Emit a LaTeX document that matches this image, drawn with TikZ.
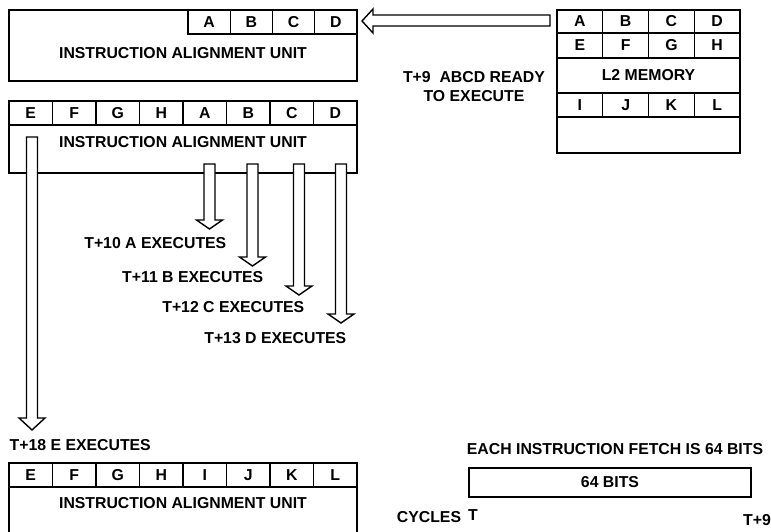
\documentclass[tikz,border=0pt]{standalone}
\usepackage{fontspec}
\setmainfont{Liberation Sans}
\usetikzlibrary{calc}

\begin{document}
\begin{tikzpicture}[x=0.03cm, y=-0.03cm, line width=1.2pt, line join=miter,
  lbl/.style={font=\fontsize{13.5}{15.5}\selectfont\bfseries, inner sep=0pt},
  blockarr/.style={draw, fill=white}]

\useasboundingbox (0,0) rectangle (771,532);

% Unita' di allineamento in alto (A..D)
\draw (9,10) rectangle (357,81);
\foreach \l [count=\i from 0] in {A,B,C,D}{
  \draw (188+42.25*\i,10) rectangle (230.25+42.25*\i,34);
  \node[lbl] (top\l) at (209.1+42.25*\i,22.5) {\l};
}
\node[lbl] (topiau) at (183,53) {INSTRUCTION ALIGNMENT UNIT};

% Memoria L2
\draw (557,10) rectangle (740,153);
\foreach \l [count=\i from 0] in {A,B,C,D}{
  \draw (557+45.75*\i,10) rectangle (602.75+45.75*\i,33);
  \node[lbl] (mem\l) at (579.9+45.75*\i,21.5) {\l};
}
\foreach \l [count=\i from 0] in {E,F,G,H}{
  \draw (557+45.75*\i,33) rectangle (602.75+45.75*\i,58);
  \node[lbl] (mem\l) at (579.9+45.75*\i,45.5) {\l};
}
\node[lbl] (l2) at (648.5,75) {L2 MEMORY};
\foreach \l [count=\i from 0] in {I,J,K,L}{
  \draw (557+45.75*\i,93) rectangle (602.75+45.75*\i,117);
  \node[lbl] (mem\l) at (579.9+45.75*\i,105) {\l};
}

% Freccia dalla L2 verso l'unita'
\draw[blockarr] (550,15) -- (373,15) -- (373,9) -- (362,21) -- (373,33)
  -- (373,26) -- (550,26) -- cycle;
\node[lbl, align=center] (ready) at (474,86.5) {T+9\ \ ABCD READY\\TO EXECUTE};

% Unita' di allineamento al centro (E..H, A..D)
\draw (9,101) rectangle (357,173);
\foreach \l [count=\i from 0] in {E,F,G,H,A,B,C,D}{
  \draw (9+43.5*\i,101) rectangle (52.5+43.5*\i,125);
  \node[lbl] (mid\l) at (30.75+43.5*\i,113.5) {\l};
}
\node[lbl] (midiau) at (183,142) {INSTRUCTION ALIGNMENT UNIT};

% Frecce di esecuzione
\foreach \x/\yb in {209.5/220, 252.5/257, 299/286, 341/314}
  \draw[blockarr] (\x-5.5,164) -- (\x-5.5,\yb) -- (\x-13,\yb) -- (\x,\yb+9)
    -- (\x+13,\yb) -- (\x+5.5,\yb) -- (\x+5.5,164) -- cycle;
\draw[blockarr] (26.5,137) -- (26.5,418) -- (19,418) -- (32,430)
  -- (45,418) -- (37.5,418) -- (37.5,137) -- cycle;

% Etichette
\node[lbl, anchor=east] (exA) at (227,243) {T+10 A EXECUTES};
\node[lbl, anchor=east] (exB) at (264,277) {T+11 B EXECUTES};
\node[lbl, anchor=east] (exC) at (305,307) {T+12 C EXECUTES};
\node[lbl, anchor=east] (exD) at (347,338) {T+13 D EXECUTES};
\node[lbl, anchor=west] (exE) at (9,445) {T+18 E EXECUTES};

% Unita' di allineamento in basso (E..L)
\draw (9,540) -- (9,463) -- (357,463) -- (357,540);
\foreach \l [count=\i from 0] in {E,F,G,H,I,J,K,L}{
  \draw (9+43.5*\i,463) rectangle (52.5+43.5*\i,487);
  \node[lbl] (bot\l) at (30.75+43.5*\i,475.5) {\l};
}
\node[lbl] (botiau) at (183,503) {INSTRUCTION ALIGNMENT UNIT};

% Fetch da 64 bit
\node[lbl] (fetch) at (615,449) {EACH INSTRUCTION FETCH IS 64 BITS};
\draw (469,468) rectangle (751,497);
\node[lbl] (bits) at (610,482.5) {64 BITS};
\node[lbl] (cyc) at (429,517) {CYCLES};
\node[lbl] (tzero) at (473,515) {T};
\node[lbl] (tnine) at (757,520) {T+9};

\end{tikzpicture}
\end{document}
